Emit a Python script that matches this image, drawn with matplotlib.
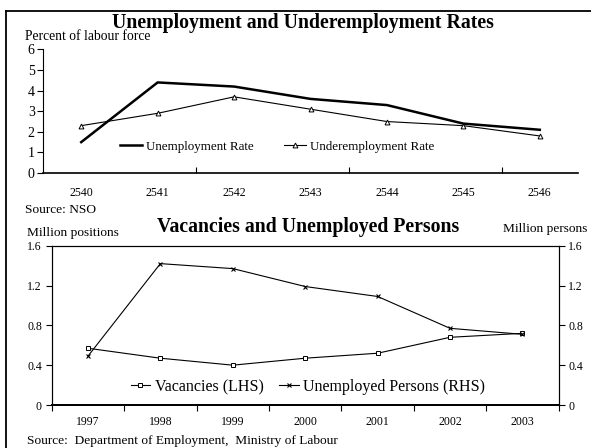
import matplotlib
matplotlib.use("Agg")
import matplotlib.pyplot as plt
from matplotlib.lines import Line2D
import numpy as np

plt.rcParams['font.family'] = ['Liberation Serif', 'DejaVu Serif']

# ---- data ----
years_th = ["2540", "2541", "2542", "2543", "2544", "2545", "2546"]
unemployment_rate = [1.5, 4.4, 4.2, 3.6, 3.3, 2.4, 2.1]
underemployment_rate = [2.3, 2.9, 3.7, 3.1, 2.5, 2.3, 1.8]

years = ["1997", "1998", "1999", "2000", "2001", "2002", "2003"]
vacancies = [0.57, 0.47, 0.40, 0.47, 0.52, 0.68, 0.72]
unemployed_persons = [0.49, 1.42, 1.37, 1.19, 1.09, 0.77, 0.71]

W, H = 591, 448
fig = plt.figure(figsize=(W / 100, H / 100), dpi=100)

def fx(px):
    return px / W

def fy(py):
    return 1 - py / H

# figure border (partially clipped)
fig.add_artist(Line2D([fx(6), fx(6)], [0, fy(11)], color='black', lw=1.3, transform=fig.transFigure))
fig.add_artist(Line2D([fx(6), 1], [fy(11), fy(11)], color='black', lw=1.3, transform=fig.transFigure))

# ---- top chart ----
ax1 = fig.add_axes([fx(43), fy(173), fx(578) - fx(43), fy(49.5) - fy(173)])
x1 = np.arange(len(years_th))
ax1.plot(x1, unemployment_rate, color='black', lw=1.8, label='Unemployment Rate')
ax1.plot(x1, underemployment_rate, color='black', lw=0.8, marker='^', ms=3.5,
         mfc='white', mec='black', mew=0.7, label='Underemployment Rate')
ax1.set_xlim(-0.5, len(years_th) - 0.5)
ax1.set_ylim(0, 6)
ax1.set_yticks(range(0, 7))
ax1.spines['top'].set_visible(False)
ax1.spines['right'].set_visible(False)
ax1.spines['left'].set_linewidth(0.8)
ax1.spines['bottom'].set_linewidth(1.2)
ax1.set_xticks(x1)
ax1.set_xticklabels(years_th, fontsize=8.5)
ax1.tick_params(axis='x', length=0, pad=10)
ax1.set_xticks([1.5, 3.5, 5.5], minor=True)
ax1.tick_params(axis='x', which='minor', direction='in', length=4, width=0.8)
ax1.tick_params(axis='y', direction='out', length=4, width=0.8, labelsize=10, pad=2)
leg1 = ax1.legend(loc='center', bbox_to_anchor=(fx(277), fy(147)), bbox_transform=fig.transFigure,
                  ncol=2, frameon=False, fontsize=9.4, handlelength=1.7, handletextpad=0.3,
                  columnspacing=2.3)

fig.text(fx(303), fy(23), "Unemployment and Underemployment Rates", ha='center', va='center',
         fontsize=14.2, fontweight='bold')
fig.text(fx(25), fy(37), "Percent of labour force", ha='left', va='center', fontsize=9.8)
fig.text(fx(25), fy(210), "Source: NSO", ha='left', va='center', fontsize=9.6)

# ---- bottom chart ----
ax2 = fig.add_axes([fx(51.7), fy(405), fx(558.7) - fx(51.7), fy(245.7) - fy(405)])
x2 = np.arange(len(years))
ax2.plot(x2, vacancies, color='black', lw=0.8, marker='s', ms=3.3, mfc='white',
         mec='black', mew=0.7, label='Vacancies (LHS)')
ax2.set_xlim(-0.5, len(years) - 0.5)
ax2.set_ylim(0, 1.6)
ax2.set_yticks([0, 0.4, 0.8, 1.2, 1.6])
ax2.set_yticklabels(["0", "0.4", "0.8", "1.2", "1.6"])
ax2.set_xticks(x2)
ax2.set_xticklabels(years, fontsize=8.5)
ax2.tick_params(axis='x', which='major', length=0, pad=8)
ax2.set_xticks(np.arange(-0.5, len(years)), minor=True)
ax2.tick_params(axis='x', which='minor', direction='out', length=4, width=0.8)
ax2.tick_params(axis='y', direction='out', length=4, width=0.8, labelsize=8.5, pad=3)
for s in ax2.spines.values():
    s.set_linewidth(0.8)
ax2.spines['bottom'].set_linewidth(1.3)

ax3 = ax2.twinx()
ax3.plot(x2, unemployed_persons, color='black', lw=0.8, marker='x', ms=3.5, mew=0.8,
         label='Unemployed Persons (RHS)')
ax3.set_ylim(0, 1.6)
ax3.set_yticks([0, 0.4, 0.8, 1.2, 1.6])
ax3.set_yticklabels(["0", "0.4", "0.8", "1.2", "1.6"])
ax3.tick_params(axis='y', direction='out', length=4, width=0.8, labelsize=8.5, pad=3)
for s in ax3.spines.values():
    s.set_linewidth(0.8)
ax3.spines['bottom'].set_linewidth(1.3)

h1, l1 = ax2.get_legend_handles_labels()
h2, l2 = ax3.get_legend_handles_labels()
ax3.legend(h1 + h2, l1 + l2, loc='center', bbox_to_anchor=(fx(308), fy(387)),
           bbox_transform=fig.transFigure, ncol=2, frameon=False, fontsize=11.5,
           handlelength=1.2, handletextpad=0.3, columnspacing=1.0)

fig.text(fx(308), fy(227), "Vacancies and Unemployed Persons", ha='center', va='center',
         fontsize=14.2, fontweight='bold')
fig.text(fx(27), fy(233), "Million positions", ha='left', va='center', fontsize=9.6)
fig.text(fx(587), fy(229), "Million persons", ha='right', va='center', fontsize=9.6)
fig.text(fx(27), fy(447), "Source:  Department of Employment,  Ministry of Labour", ha='left',
         va='bottom', fontsize=9.6)

fig.savefig("out.png", dpi=100)
